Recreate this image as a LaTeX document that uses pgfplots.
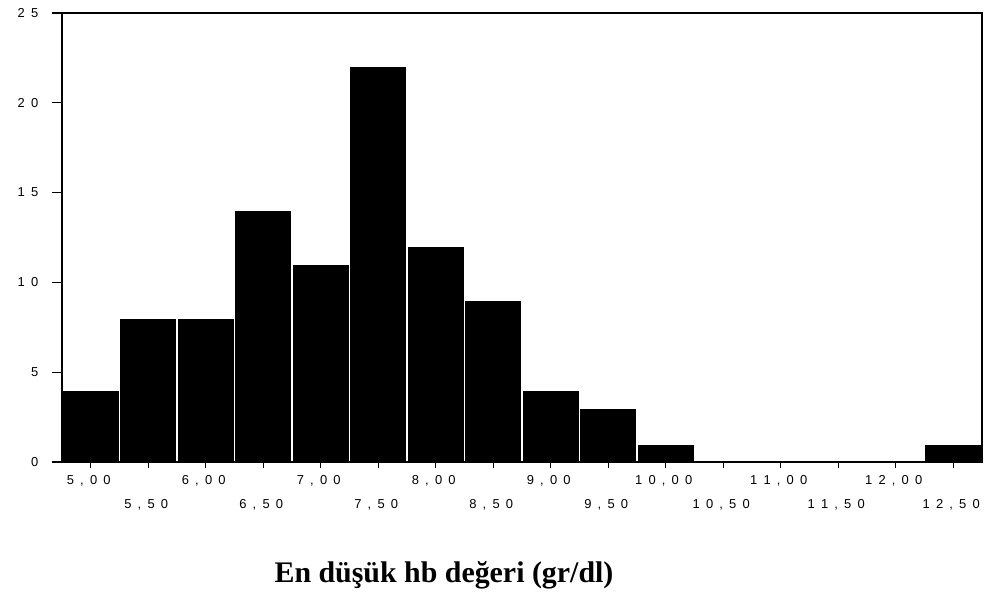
\documentclass[border=0pt]{standalone}
\usepackage{pgfplots}
\pgfplotsset{compat=1.18}
\usepackage{fontspec}
\setmainfont{Liberation Sans}
\newfontfamily\tickfont[LetterSpace=20]{Liberation Sans}
\newfontfamily\titlefont{Liberation Serif}
\begin{document}
\begin{tikzpicture}
\path[use as bounding box] (0,0) rectangle (984bp,596bp);
\begin{axis}[
    at={(62bp,134bp)}, anchor=south west,
    scale only axis,
    width=920bp, height=449bp,
    xmin=4.75, xmax=12.75,
    ymin=0, ymax=25,
    axis line style={line width=1.6pt},
    axis on top,
    tick pos=left,
    tick align=outside,
    ytick={0,5,10,15,20,25},
    yticklabels={0,5,{1 0},{1 5},{2 0},{2 5}},
    xtick={5,6,7,8,9,10,11,12},
    xticklabels={{5 , 0 0},{6 , 0 0},{7 , 0 0},{8 , 0 0},{9 , 0 0},{1 0 , 0 0},{1 1 , 0 0},{1 2 , 0 0}},
    extra x ticks={5.5,6.5,7.5,8.5,9.5,10.5,11.5,12.5},
    extra x tick labels={{5 , 5 0},{6 , 5 0},{7 , 5 0},{8 , 5 0},{9 , 5 0},{1 0 , 5 0},{1 1 , 5 0},{1 2 , 5 0}},
    extra x tick style={xticklabel style={yshift=-24bp}},
    ticklabel style={font=\fontsize{13}{15}\tickfont},
    x tick style={line width=1.2pt, black},
    y tick style={line width=1.2pt, black},
    xtick style={/pgfplots/major tick length=6bp},
    ytick style={/pgfplots/major tick length=10bp},
    yticklabel style={xshift=-16bp},
    xticklabel style={yshift=-6bp, xshift=-2bp},
]
\addplot[ybar, bar width=0.5, fill=black, draw=white, line width=1.2pt]
coordinates {
    (5.0,4) (5.5,8) (6.0,8) (6.5,14) (7.0,11) (7.5,22) (8.0,12)
    (8.5,9) (9.0,4) (9.5,3) (10.0,1) (12.5,1)
};
\end{axis}
\node[anchor=base, font=\fontsize{30}{34}\titlefont\bfseries] at (444bp,14bp) {En düşük hb değeri (gr/dl)};
\end{tikzpicture}
\end{document}
